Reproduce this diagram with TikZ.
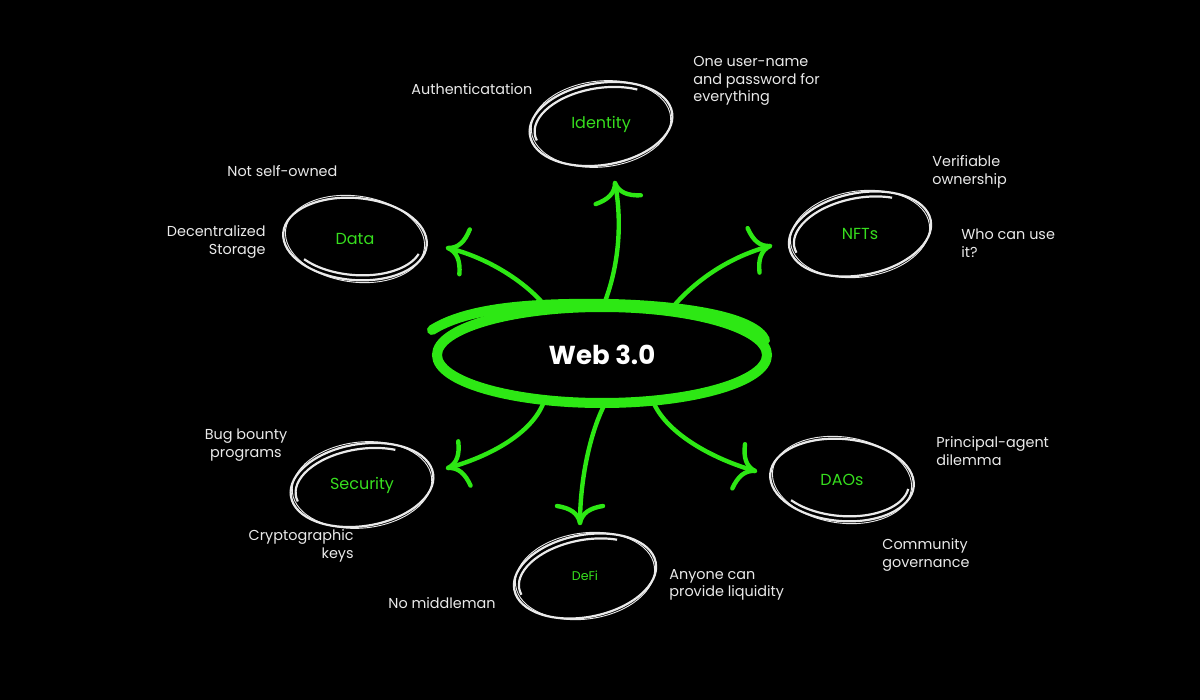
\documentclass[tikz,border=0pt]{standalone}
\usepackage{fontspec}
\setmainfont{Poppins}
\usetikzlibrary{shapes.geometric,calc}
\definecolor{neon}{RGB}{45,232,20}
\definecolor{leaf}{RGB}{55,222,30}
\definecolor{chalk}{RGB}{234,234,234}
\tikzset{
  note/.style={text=chalk, font=\fontsize{7.2}{8.8}\selectfont, inner sep=0pt},
  ringtext/.style={text=leaf, font=\fontsize{8}{9}\selectfont, inner sep=0pt},
  ringline/.style={draw=chalk, line width=1.1pt},
  ringthin/.style={draw=chalk, line width=0.45pt},
  flow/.style={draw=neon, line width=2.2pt, line cap=round, line join=round},
  webline/.style={draw=neon, line width=5pt, line cap=round},
  barbs/.pic={\draw[flow] (-17,-23) .. controls (-15,-10) and (-10,-2) .. (0,0) .. controls (-10,2) and (-15,10) .. (-17,23);}
}
\newcommand\handring[4]{%
  \begin{scope}[shift={(#1.center)}, rotate=#2]
    \draw[ringline] (0,0) ellipse[x radius=72, y radius=41];
    \draw[ringthin, rotate=-3] (0,0) ellipse[x radius=70, y radius=43];
    \draw[ringline] (#3:67 and 36) arc[start angle=#3, end angle=#4, x radius=67, y radius=36];
  \end{scope}}
\begin{document}
\begin{tikzpicture}[x=0.5pt, y=-0.5pt]
\fill[black] (0,0) rectangle (1200,700);
\useasboundingbox (0,0) rectangle (1200,700);

% central node
\node[ellipse, inner sep=0pt, outer sep=0pt, minimum width=165pt, minimum height=48pt,
      text=white, font=\fontsize{13}{15}\selectfont\bfseries] (web) at (602,355) {Web 3.0};

% topic nodes
\node[ringtext] (identity) at (601,124) {Identity};
\node[ringtext] (data) at (355,239) {Data};
\node[ringtext] (nfts) at (860,234) {NFTs};
\node[ringtext] (security) at (362,485) {Security};
\node[ringtext, font=\fontsize{6.3}{8}\selectfont] (defi) at (585,576) {DeFi};
\node[ringtext] (daos) at (842,480) {DAOs};

% arrow tips
\coordinate (tData) at (448,248);
\coordinate (tIdentity) at (615,183);
\coordinate (tNfts) at (770,246);
\coordinate (tSecurity) at (448,468);
\coordinate (tDefi) at (580,523);
\coordinate (tDaos) at (755,471);

% connectors
\draw[flow] (web.140) .. controls (530,285) and (490,258) .. (tData);
\draw[flow] (web.89) .. controls (620,265) and (622,220) .. (tIdentity);
\draw[flow] (web.33) .. controls (690,285) and (725,258) .. (tNfts);
\draw[flow] (web.218) .. controls (535,430) and (495,455) .. (tSecurity);
\draw[flow] (web.274) .. controls (590,432) and (580,480) .. (tDefi);
\draw[flow] (web.318) .. controls (665,432) and (710,458) .. (tDaos);
\pic[rotate=167] at (tData) {barbs};
\pic[rotate=101] at (tIdentity) {barbs};
\pic[rotate=15] at (tNfts) {barbs};
\pic[rotate=195.5] at (tSecurity) {barbs};
\pic[rotate=270] at (tDefi) {barbs};
\pic[rotate=344] at (tDaos) {barbs};

% web ring
\draw[webline] (web.center) ellipse[x radius=165, y radius=48];
\draw[webline] (432,330) .. controls (470,306) and (540,303) .. (610,304) .. controls (690,306) and (755,318) .. (765,340);

% hand drawn rings
\handring{identity}{9}{308}{170}
\handring{data}{-5}{137}{15}
\handring{nfts}{11}{305}{170}
\handring{security}{9}{305}{170}
\handring{defi}{11}{305}{170}
\handring{daos}{-5}{137}{5}

% notes
\node[note, anchor=west] (n1) at (411,89) {Authenticatation};
\node[note, anchor=west, align=left] (n2) at (693,81) {One user-name\\and password for\\everything};
\node[note, anchor=west] (n3) at (227,171) {Not self-owned};
\node[note, anchor=east, align=right] (n4) at (266,242) {Decentralized\\Storage};
\node[note, anchor=west, align=left] (n5) at (932,172) {Verifiable\\ownership};
\node[note, anchor=west, align=left] (n6) at (961,243) {Who can use\\it?};
\node[note, align=center] (n7) at (246,445) {Bug bounty\\programs};
\node[note, anchor=east, align=right] (n8) at (354,546) {Cryptographic\\keys};
\node[note, anchor=west] (n9) at (388,603) {No middleman};
\node[note, anchor=west, align=left] (n10) at (669,585) {Anyone can\\provide liquidity};
\node[note, anchor=west, align=left] (n11) at (936,451) {Principal-agent\\dilemma};
\node[note, anchor=west, align=left] (n12) at (882,555) {Community\\governance};
\end{tikzpicture}
\end{document}
